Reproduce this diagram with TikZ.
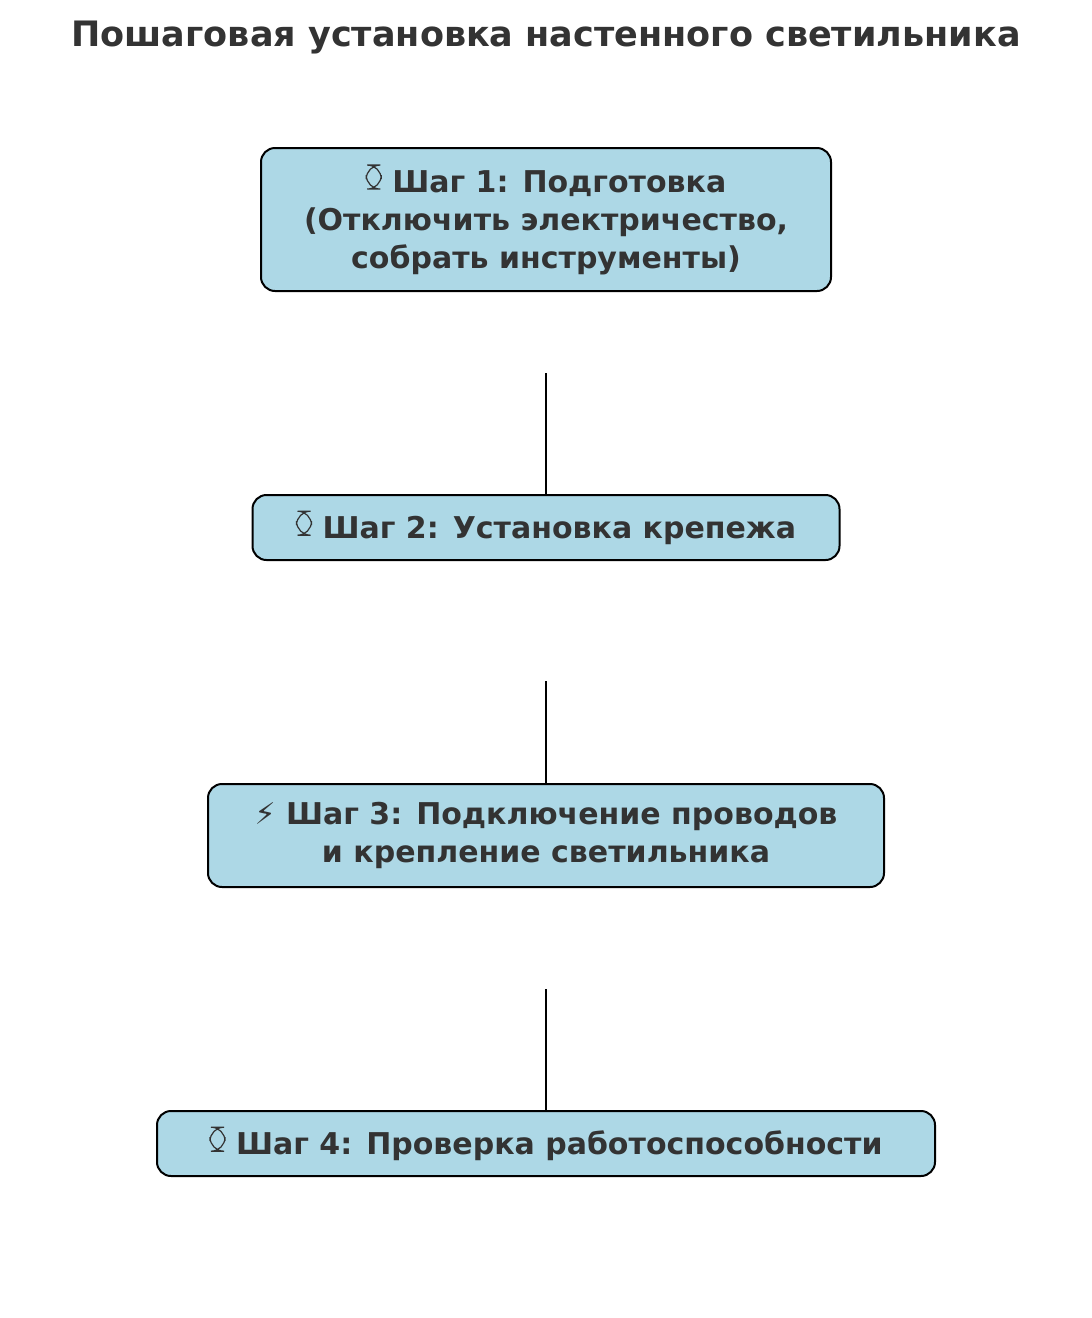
\documentclass[tikz,border=0pt]{standalone}
\usepackage{fontspec}
\setmainfont{DejaVu Sans}
\definecolor{txt}{HTML}{333333}
\definecolor{boxfill}{HTML}{ADD8E6}
\newcommand{\tofu}{\tikz[baseline=-3pt]\draw[txt,line width=1.2pt] (0,0) rectangle (15pt,24pt);}
\begin{document}
\begin{tikzpicture}[x=1pt,y=-1pt,
  stepbox/.style={draw=black,line width=2pt,fill=boxfill,rounded corners=14pt,text=txt,font=\bfseries\fontsize{30}{38}\selectfont,align=center,inner sep=0pt},
  conn/.style={draw=black,line width=2.5pt}]
\useasboundingbox (0,0) rectangle (1092,1318);
\node[text=txt,font=\bfseries\fontsize{35}{40}\selectfont] (title) at (546,38) {Пошаговая установка настенного светильника};
\node[stepbox,minimum width=570,minimum height=143] (s1) at (546,219.5) {\tofu\ Шаг 1: Подготовка\\(Отключить электричество,\\собрать инструменты)};
\node[stepbox,minimum width=587,minimum height=65] (s2) at (546,527.5) {\tofu\ Шаг 2: Установка крепежа};
\node[stepbox,minimum width=676,minimum height=103] (s3) at (546,835.5) {⚡ Шаг 3: Подключение проводов\\и крепление светильника};
\node[stepbox,minimum width=778,minimum height=65] (s4) at (546,1143.5) {\tofu\ Шаг 4: Проверка работоспособности};
\coordinate (c1) at (546,373);
\coordinate (c2) at (546,681);
\coordinate (c3) at (546,989);
\draw[conn] (c1) -- (s2.north);
\draw[conn] (c2) -- (s3.north);
\draw[conn] (c3) -- (s4.north);
\end{tikzpicture}
\end{document}
